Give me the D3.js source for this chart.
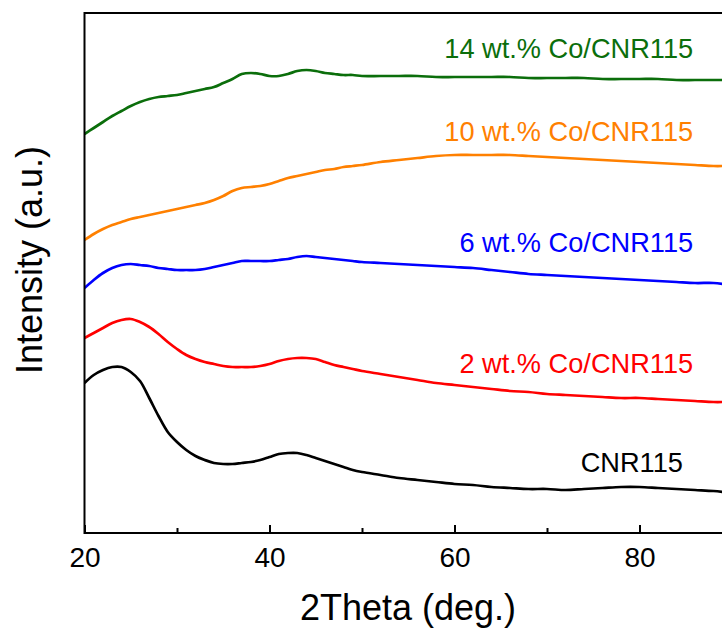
<!DOCTYPE html>
<html>
<head>
<meta charset="utf-8">
<script src="https://cdn.jsdelivr.net/npm/d3@7"></script>
<style>
  html, body { margin: 0; padding: 0; background: #fff; }
  svg { display: block; font-family: Arial, "Liberation Sans", sans-serif; }
</style>
</head>
<body>
<svg id="chart" width="722" height="630"></svg>
<script>
// ---- data ----
const twoTheta = [20,21,22,23,24,25,26,27,28,29,30,31,32,33,34,35,36,37,38,39,40,41,42,43,44,45,46,47,48,49,50,
  52,54,56,58,60,62,64,66,68,70,72,74,76,78,80,82,84,86,88,89];

const cnr115 = [150,158,163,166,166,161,152,135,117,101, 91,83,77,73,70,69,69,70,71,73,
  76,79,80,80,78,75,72,69,66,63, 61, 58,55,53,51,49,48,46,45,44,44, 43,44,45,46,46,45,44,43,42, 41];
const co2 = [195,200,205,210,213,214,211,206,199,191, 184,178,174,171,169,167,166,166,166,167,
  169,172,174,175,175,174,171,168,166,164, 162, 159,156,153,150,148,146,144,142,141,139, 138,137,136,135,135,134,133,132,131, 131];
const co6 = [245,253,260,265,268,269,268,267,265,264, 263,263,263,264,266,268,270,272,272,272,
  272,273,274,276,277,276,275,274,273,272, 271, 270,269,268,267,266,265,263,261,259,258, 257,256,255,254,253,252,251,250,250, 249];
const co10 = [293,299,304,308,311,314,316,318,320,322, 324,326,328,330,333,337,342,345,346,347,
  349,352,355,357,359,361,363,364,366,367, 368, 371,373,375,377,378,378,378,378,377,376, 375,374,373,372,371,370,369,368,367, 367];
const co14 = [399,405,411,417,422,427,431,434,436,437, 438,440,442,444,446,450,454,459,460,459,
  457,457,459,462,463,462,460,459,458,458, 457, 457,457,457,456,456,456,456,456,455,455, 455,455,454,454,454,454,453,453,453, 453];

const seriesNames = ["CNR115", "2 wt.% Co/CNR115", "6 wt.% Co/CNR115", "10 wt.% Co/CNR115", "14 wt.% Co/CNR115"];
const seriesColors = ["#000000", "#ff0000", "#0000ff", "#ff8000", "#0b6e0b"];
const seriesValues = [cnr115, co2, co6, co10, co14];
// label anchor (2θ of right end, intensity of baseline)
const labelTheta = [84.7, 85.8, 85.8, 85.8, 85.8];
const labelValue = [61, 160, 281, 392, 475];

const xMajorTicks = [20, 40, 60, 80];
const xMinorTicks = [30, 50, 70, 90];

// ---- layout ----
const svg = d3.select("#chart");
const mLeft = 84.5, mTop = 13, mBottom = 533, mRight = 732;

const x = d3.scaleLinear().domain([20, 90]).range([mLeft, mRight]);
const y = d3.scaleLinear().domain([0, 520]).range([mBottom, mTop]);

svg.append("defs").append("clipPath").attr("id", "clip")
  .append("rect").attr("x", mLeft).attr("y", mTop).attr("width", mRight - mLeft).attr("height", mBottom - mTop);

const line = d3.line()
  .x((d, i) => x(twoTheta[i]))
  .y(d => y(d))
  .curve(d3.curveCatmullRom.alpha(0.5));

const plot = svg.append("g").attr("clip-path", "url(#clip)");
seriesValues.forEach((vals, k) => {
  plot.append("path")
    .attr("d", line(vals))
    .attr("fill", "none")
    .attr("stroke", seriesColors[k])
    .attr("stroke-width", 2.7)
    .attr("stroke-linejoin", "round");
});

// series labels
seriesNames.forEach((name, k) => {
  svg.append("text")
    .attr("x", x(labelTheta[k]))
    .attr("y", y(labelValue[k]))
    .attr("text-anchor", "end")
    .attr("font-size", 27.2)
    .attr("fill", seriesColors[k])
    .text(name);
});

// frame
svg.append("rect")
  .attr("x", mLeft).attr("y", mTop)
  .attr("width", mRight - mLeft).attr("height", mBottom - mTop)
  .attr("fill", "none").attr("stroke", "#000").attr("stroke-width", 2);

// x axis
const xAxis = d3.axisBottom(x).tickValues(xMajorTicks).tickSize(-8).tickPadding(14).tickFormat(d3.format("d"));
const gx = svg.append("g").attr("transform", `translate(0,${mBottom})`).call(xAxis);
gx.select(".domain").remove();
gx.selectAll(".tick line").attr("stroke", "#000").attr("stroke-width", 2);
gx.selectAll(".tick text").attr("font-size", 28).attr("fill", "#000")
  .attr("font-family", "Arial, 'Liberation Sans', sans-serif").attr("dy", "0.71em").attr("y", 14);

const xMinor = d3.axisBottom(x).tickValues(xMinorTicks).tickSize(-5).tickFormat("");
const gm = svg.append("g").attr("transform", `translate(0,${mBottom})`).call(xMinor);
gm.select(".domain").remove();
gm.selectAll(".tick line").attr("stroke", "#000").attr("stroke-width", 2);

// axis titles
svg.append("text")
  .attr("x", 408).attr("y", 620)
  .attr("text-anchor", "middle").attr("font-size", 36).attr("fill", "#000")
  .text("2Theta (deg.)");

svg.append("text")
  .attr("transform", "translate(42,260) rotate(-90)")
  .attr("text-anchor", "middle").attr("font-size", 36).attr("fill", "#000")
  .text("Intensity (a.u.)");
</script>
</body>
</html>
